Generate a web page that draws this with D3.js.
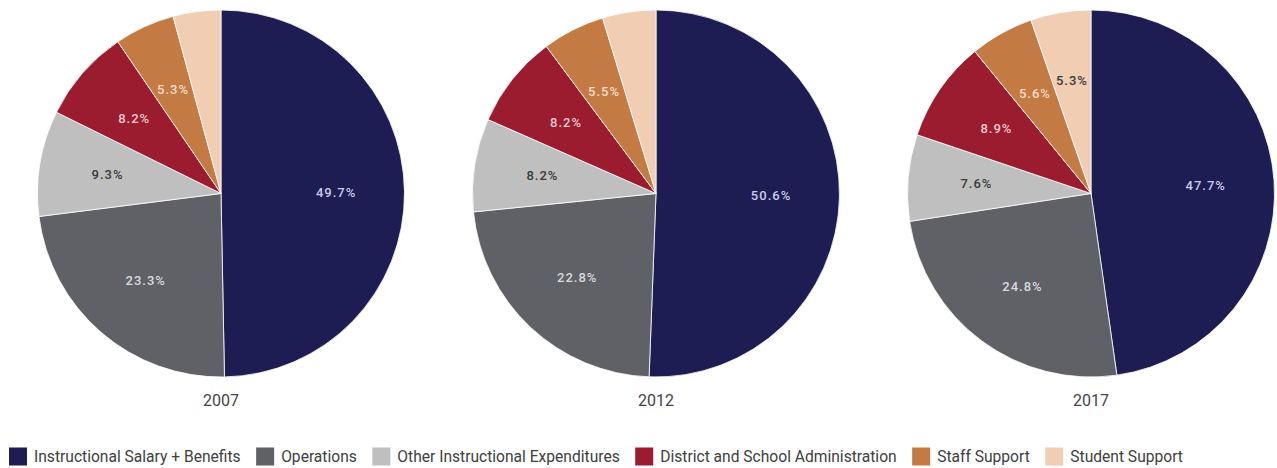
<!DOCTYPE html>
<html>
<head>
<meta charset="utf-8">
<script src="https://cdn.jsdelivr.net/npm/d3@7/dist/d3.min.js"></script>
<style>
  html, body { margin: 0; padding: 0; background: #ffffff; }
  svg { display: block; }
  text { font-family: Roboto, "Noto Sans", sans-serif; }
</style>
</head>
<body>
<svg id="chart" width="1277" height="468"></svg>
<script>
// Spending categories, in slice order (clockwise from 12 o'clock)
const categories = [
  "Instructional Salary + Benefits",
  "Operations",
  "Other Instructional Expenditures",
  "District and School Administration",
  "Staff Support",
  "Student Support"
];
const colors = ["#1d1d54", "#606067", "#bfbfbf", "#9b1b2f", "#c47a43", "#f0cdb3"];
const labelColors = ["#c9cbe8", "#dadada", "#3a3a3a", "#f4c9ce", "#f8dcc6", "#3a3a3a"];

const years = ["2007", "2012", "2017"];
// Share of spending (%) per category, one array per year
const values2007 = [49.7, 23.3, 9.3, 8.2, 5.3, 4.2];
const values2012 = [50.6, 22.8, 8.2, 8.2, 5.5, 4.7];
const values2017 = [47.7, 24.8, 7.6, 8.9, 5.6, 5.3];
const seriesByYear = [values2007, values2012, values2017];

// Slices under this share are left unlabelled
const labelThreshold = 5;

const svg = d3.select("#chart");
const radius = 183.5;
const cy = 193.5;

const x = d3.scalePoint().domain(years).range([221, 1091]);

const pie = d3.pie().sort(null).value(d => d.value);
const arc = d3.arc().innerRadius(0).outerRadius(radius);
const labelArc = d3.arc().innerRadius(radius * 0.627).outerRadius(radius * 0.627);

years.forEach((year, yi) => {
  const rows = categories.map((c, i) => ({ cat: c, i, value: seriesByYear[yi][i] }));
  const g = svg.append("g").attr("transform", `translate(${x(year)},${cy})`);
  const arcs = pie(rows);

  g.selectAll("path")
    .data(arcs)
    .join("path")
    .attr("d", arc)
    .attr("fill", d => colors[d.data.i])
    .attr("stroke", "#ffffff")
    .attr("stroke-width", 0.8)
    .attr("stroke-linejoin", "round");

  g.selectAll("text.val")
    .data(arcs.filter(d => d.data.value >= labelThreshold))
    .join("text")
    .attr("class", "val")
    .attr("transform", d => `translate(${labelArc.centroid(d)})`)
    .attr("text-anchor", "middle")
    .attr("dy", "0.36em")
    .attr("font-size", 13)
    .attr("font-weight", 500)
    .attr("letter-spacing", "1px")
    .attr("fill", d => labelColors[d.data.i])
    .text(d => d.data.value.toFixed(1) + "%");

  svg.append("text")
    .attr("x", x(year))
    .attr("y", 400)
    .attr("dy", "0.36em")
    .attr("text-anchor", "middle")
    .attr("font-size", 16)
    .attr("fill", "#444444")
    .text(year);
});

// Legend: swatch + label, laid out left to right
const legend = svg.append("g").attr("transform", "translate(9,456.5)");
const swatch = 18, swGap = 7, itemGap = 15.5;
let lx = 0;
categories.forEach((c, i) => {
  const item = legend.append("g").attr("transform", `translate(${lx},0)`);
  item.append("rect")
    .attr("x", 0).attr("y", -swatch / 2)
    .attr("width", swatch).attr("height", swatch)
    .attr("fill", colors[i]);
  const t = item.append("text")
    .attr("x", swatch + swGap)
    .attr("dy", "0.35em")
    .attr("font-size", 15.6)
    .attr("fill", "#404040")
    .text(c);
  lx += swatch + swGap + t.node().getComputedTextLength() + itemGap;
});
</script>
</body>
</html>
